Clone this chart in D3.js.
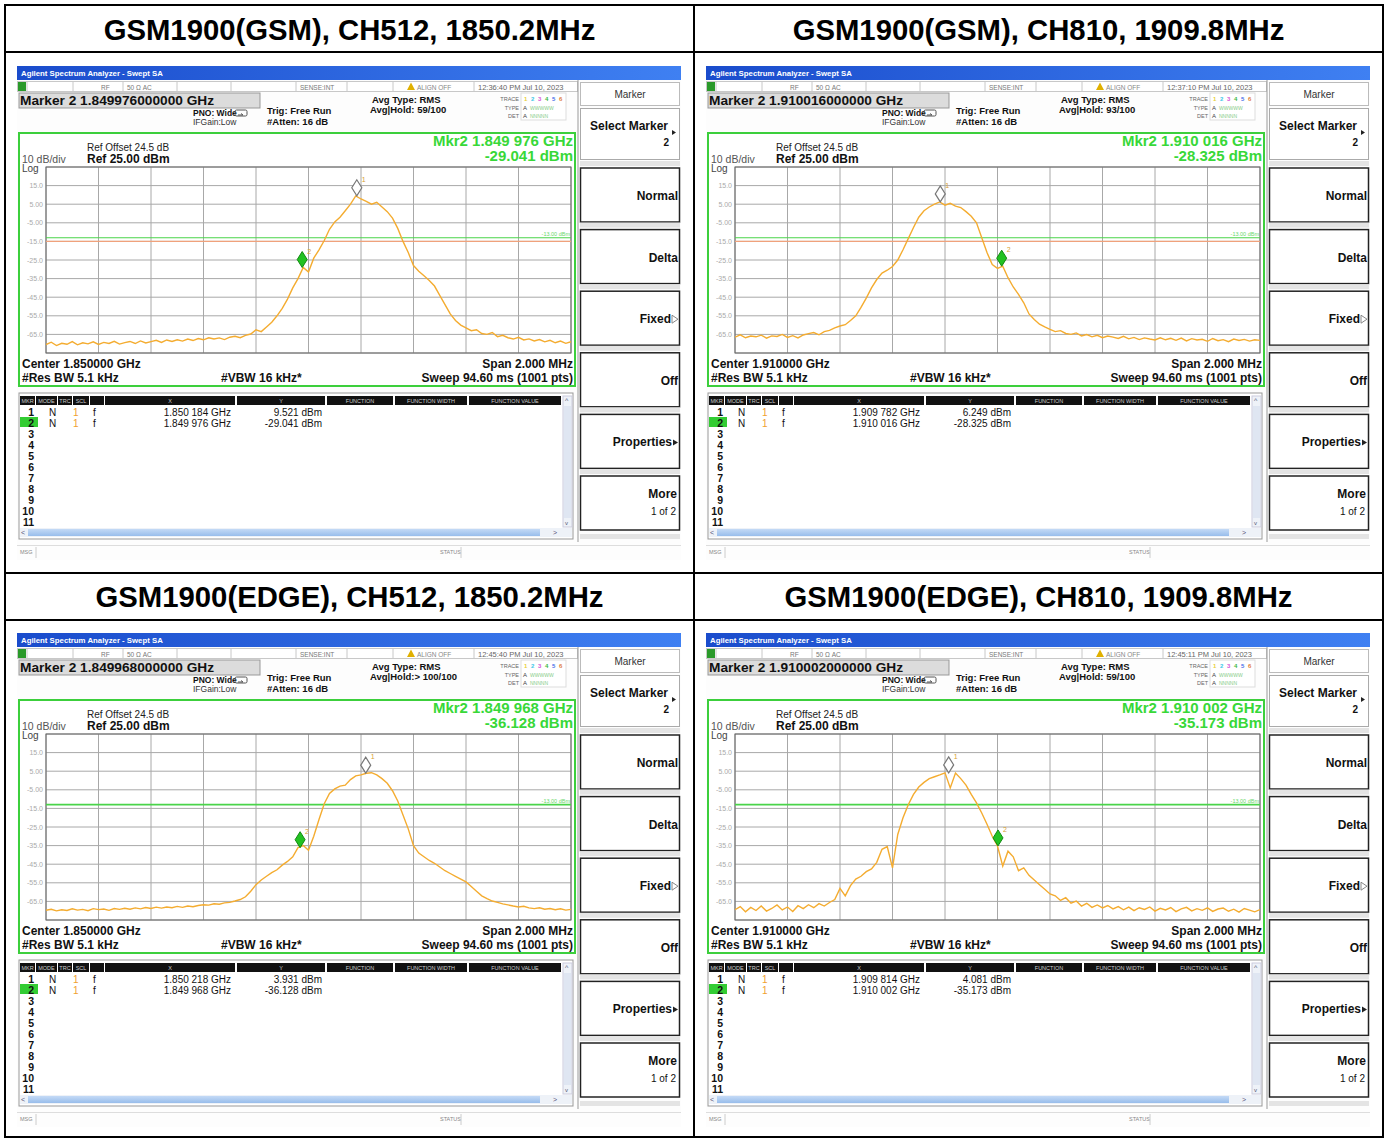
<!DOCTYPE html>
<html>
<head>
<meta charset="utf-8">
<script src="https://cdn.jsdelivr.net/npm/d3@7"></script>
<style>
body{ margin:0; background:#fff }
text{ font-family:"Liberation Sans", Arial, sans-serif }
</style>
</head>
<body>
<script>
var width = 1385,
    height = 1138;

// ---- data ----
var titles = ['GSM1900(GSM), CH512, 1850.2MHz', 'GSM1900(GSM), CH810, 1909.8MHz',
              'GSM1900(EDGE), CH512, 1850.2MHz', 'GSM1900(EDGE), CH810, 1909.8MHz'];
var centers = [1850, 1910, 1850, 1910];            // MHz
var spanMHz = 2;
var timestamps = ['12:36:40 PM Jul 10, 2023', '12:37:10 PM Jul 10, 2023',
                  '12:45:40 PM Jul 10, 2023', '12:45:11 PM Jul 10, 2023'];
var avgHold = ['Avg|Hold: 59/100', 'Avg|Hold: 93/100', 'Avg|Hold:> 100/100', 'Avg|Hold: 59/100'];
var mkr1Freq = [1850.184, 1909.782, 1850.218, 1909.814];
var mkr1Level = [9.521, 6.249, 3.931, 4.081];
var mkr2Freq = [1849.976, 1910.016, 1849.968, 1910.002];
var mkr2Level = [-29.041, -28.325, -36.128, -35.173];
var displayLine = -13;
var yTicks = [15, 5, -5, -15, -25, -35, -45, -55, -65];
var yTickLabels = ['15.0', '5.00', '-5.00', '-15.0', '-25.0', '-35.0', '-45.0', '-55.0', '-65.0'];
var softkeys = ['Normal', 'Delta', 'Fixed', 'Off', 'Properties', 'More'];
var tableHeaders = ['MKR', 'MODE', 'TRC', 'SCL', 'X', 'Y', 'FUNCTION', 'FUNCTION WIDTH', 'FUNCTION VALUE'];

// traces, 101 points each, 20 kHz apart from center-1MHz
var trace1 = [-70.5, -69.2, -71.0, -69.8, -70.3, -68.9, -70.6, -69.5, -70.1, -69.0, -70.4, -69.3, -69.9, -68.7, -70.2, -69.4, -68.8, -69.9, -68.5, -69.6, -68.9, -68.2, -69.3, -68.0, -68.8, -67.9, -68.6, -67.5, -68.3, -67.2, -67.9, -66.8, -67.5, -66.9, -67.8, -66.5,
  -66.0, -66.8, -65.5, -64.8, -62.5, -63.5, -61.0, -58.5,
  -55.0, -51.0, -46.0, -40.0, -35.0, -29.0, -31.5,
  -24.0, -19.5, -14.5, -8.5, -4.5, -2.0, 1.5, 5.0, 9.5, 7.8,
  6.5, 5.0, 6.0, 3.5, 1.0, -2.5,
  -8.0, -15.0, -21.0, -28.0, -31.0, -33.5, -36.0, -39.0, -44.0, -49.0, -54.0, -57.5, -60.0, -61.5,
  -63.0, -62.5, -64.5, -65.0, -64.0, -66.2, -65.5, -66.8, -67.5, -66.6, -68.0, -67.4, -68.5, -67.8, -69.0, -68.2, -69.5, -68.6, -69.8, -68.9];
var trace2 = [-66.5, -65.2, -66.8, -65.9, -66.3, -65.4, -67.0, -65.8, -66.1, -65.0, -66.6, -65.7, -66.9, -65.3, -64.6,
  -64.0, -65.2, -63.5, -62.8, -61.5, -60.5, -59.8, -57.5, -55.0, -50.5, -45.5, -40.0, -35.5, -32.0, -30.5, -28.5,
  -25.0, -19.5, -13.5, -7.5, -2.0, 1.5, 3.5, 5.0, 6.2, 4.5, 5.5, 4.0, 3.2, 1.0, -1.5, -5.0, -13.0, -21.0, -27.5, -29.5, -28.3,
  -34.5, -39.5, -43.5, -48.0, -54.0, -57.0, -59.5, -61.0, -62.3,
  -63.5, -63.0, -64.5, -65.0, -64.2, -65.8, -65.1, -66.3, -65.5, -66.8, -65.9, -66.5, -67.2, -66.0, -67.4, -66.6, -67.8, -66.9, -67.5, -68.0,
  -66.8, -67.9, -67.1, -68.2, -67.0, -68.5, -67.3, -68.0, -67.6, -68.7, -67.2, -68.4, -67.8, -68.9, -67.5, -68.3, -67.7, -68.6, -67.9, -68.2];
var trace3 = [-69.8, -69.2, -70.1, -69.5, -69.9, -69.0, -69.7, -69.3, -70.0, -68.9, -69.4, -69.1, -69.8, -68.8, -69.3, -68.7, -69.2, -68.5, -69.0, -68.3, -68.8, -68.1, -68.6, -68.0, -68.4, -67.7, -68.2, -67.5, -67.9, -67.2,
  -66.8, -67.0, -66.3, -66.5, -65.8, -65.5, -64.8, -64.0, -62.5, -59.5, -56.0, -53.5, -51.5, -49.5, -48.0, -45.5, -43.5, -41.0, -36.1, -35.0, -37.5,
  -30.0, -21.0, -12.5, -7.0, -4.5, -3.0, -2.5, 0.5, 2.5, 3.0, 3.9, 4.2, 3.0, 1.0, -1.5, -5.5, -11.0, -18.5, -26.0, -35.0,
  -39.0, -41.0, -43.0, -44.5, -46.5, -48.5, -50.0, -51.5, -53.0, -54.5, -57.0, -59.5, -62.0, -63.5, -64.8, -65.5, -66.3, -66.9, -67.5, -68.0,
  -67.6, -68.5, -68.9, -68.4, -69.2, -68.8, -69.5, -69.0, -69.7, -69.3];
var trace4 = [-69.5, -67.8, -70.6, -68.2, -69.9, -67.5, -70.2, -68.8, -66.9, -69.6, -68.0, -70.4, -67.3, -68.9, -66.8, -68.4, -66.2, -67.5, -65.6,
  -64.0, -58.0, -62.0, -56.5, -53.0, -51.5, -49.0, -47.5, -44.0, -37.0, -35.5, -47.0, -29.0, -20.0, -13.0, -7.5, -3.5, -1.0, 1.0, 2.0, 3.0, 4.1,
  -4.0, 4.0, 1.0, -2.5, -7.5, -12.0, -17.5, -23.5, -30.0, -35.2,
  -46.0, -38.0, -41.0, -48.5, -47.0, -51.0, -53.5, -56.0, -58.5, -61.0, -62.0, -64.5, -63.0, -66.0, -64.8, -67.5, -66.0, -68.2, -66.9, -68.5,
  -67.2, -69.0, -67.8, -69.5, -68.1, -70.0, -68.4, -69.3, -68.0, -70.2, -68.7, -69.6, -68.3, -70.5, -69.0, -68.2, -70.1, -68.9, -69.8, -68.5,
  -70.4, -69.1, -68.6, -70.3, -69.2, -70.8, -68.8, -69.7, -70.6, -69.4];
var traces = [trace1, trace2, trace3, trace4];

var origins = [[17, 66], [706, 66], [17, 633], [706, 633]];

// ---- page ----
var svg = d3.select('body')
    .append('svg')
        .attr('width', width)
        .attr('height', height)
        .style('display', 'block');

svg.append('rect').attr('width', width).attr('height', height).attr('fill', '#fff');

var defs = svg.append('defs');
var grad = defs.append('linearGradient').attr('id', 'bar');
grad.append('stop').attr('offset', '0').attr('stop-color', '#1a4ccc');
grad.append('stop').attr('offset', '1').attr('stop-color', '#3f80f2');
var sgrad = defs.append('linearGradient').attr('id', 'scroll').attr('x2', 0).attr('y2', 1);
sgrad.append('stop').attr('offset', '0').attr('stop-color', '#c4daf6');
sgrad.append('stop').attr('offset', '1').attr('stop-color', '#98bdeb');
defs.append('clipPath').attr('id', 'gridclip')
    .append('rect').attr('x', 29).attr('y', 101).attr('width', 525).attr('height', 186);

// table grid
var tbl = svg.append('g').attr('stroke', '#000').attr('stroke-width', 2).attr('fill', 'none');
tbl.append('rect').attr('x', 5).attr('y', 5).attr('width', 1378).attr('height', 1132);
[52, 573, 620].forEach(function(yy){
    tbl.append('line').attr('x1', 5).attr('x2', 1383).attr('y1', yy).attr('y2', yy);
});
tbl.append('line').attr('x1', 694).attr('x2', 694).attr('y1', 5).attr('y2', 1137);

svg.selectAll('text.title')
    .data(titles)
    .enter()
    .append('text')
        .attr('class', 'title')
        .attr('x', function(d, i){ return i % 2 ? 1038.5 : 349.5; })
        .attr('y', function(d, i){ return i < 2 ? 40 : 607; })
        .attr('text-anchor', 'middle')
        .attr('font-size', 29.3)
        .attr('font-weight', 'bold')
        .text(function(d){ return d; });

function label(g, x, y, s, size, opt){
    opt = opt || {};
    return g.append('text')
        .attr('x', x).attr('y', y)
        .attr('font-size', size)
        .attr('font-weight', opt.bold ? 'bold' : 'normal')
        .attr('fill', opt.fill || '#111')
        .attr('text-anchor', opt.anchor || 'start')
        .text(s);
}

function spaced(f){   // 1849.976 -> "1.849 976"
    var s = (f / 1000).toFixed(6);
    return s.slice(0, 5) + ' ' + s.slice(5);
}

function drawPanel(k){
    var g = svg.append('g').attr('transform', 'translate(' + origins[k][0] + ',' + origins[k][1] + ')');
    var x = d3.scaleLinear().domain([centers[k] - spanMHz / 2, centers[k] + spanMHz / 2]).range([29, 554]);
    var y = d3.scaleLinear().domain([-75, 25]).range([287, 101]);
    var edge = k >= 2;

    g.append('rect').attr('width', 664).attr('height', 494).attr('fill', '#fdfdfd');

    // title bar
    g.append('rect').attr('width', 664).attr('height', 14).attr('fill', 'url(#bar)');
    label(g, 4, 10, 'Agilent Spectrum Analyzer - Swept SA', 7.8, {bold: true, fill: '#fff'});

    // status row
    g.append('rect').attr('x', 0.5).attr('y', 15.5).attr('width', 560).attr('height', 10)
        .attr('fill', '#fff').attr('stroke', '#c8c8c8');
    [10, 56, 106, 160, 214, 279, 330, 376, 457].forEach(function(sx){
        g.append('line').attr('x1', sx).attr('x2', sx).attr('y1', 16).attr('y2', 25).attr('stroke', '#c8c8c8');
    });
    g.append('rect').attr('x', 1).attr('y', 16).attr('width', 8).attr('height', 9).attr('fill', '#2a9a2a');
    label(g, 84, 23.5, 'RF', 6.5, {fill: '#777'});
    label(g, 110, 23.5, '50 \u03a9   AC', 6.5, {fill: '#777'});
    label(g, 283, 23.5, 'SENSE:INT', 6.5, {fill: '#777'});
    g.append('path').attr('d', 'M390,24 L394,16.5 L398,24 Z').attr('fill', '#e0b000');
    label(g, 400, 23.5, 'ALIGN OFF', 6.5, {fill: '#888'});
    label(g, 461, 23.5, timestamps[k], 7.5, {fill: '#666'});

    // marker header line
    g.append('rect').attr('x', 2).attr('y', 27).attr('width', 241).attr('height', 15)
        .attr('fill', '#dcdcdc').attr('stroke', '#999');
    label(g, 3, 39, 'Marker 2 ' + (mkr2Freq[k] / 1000).toFixed(12) + ' GHz', 13.7, {bold: true});
    label(g, 176, 50, 'PNO: Wide', 8.5, {bold: true});
    label(g, 176, 59, 'IFGain:Low', 8.5, {fill: '#333'});
    g.append('rect').attr('x', 218).attr('y', 44).attr('width', 12).attr('height', 6)
        .attr('fill', 'none').attr('stroke', '#555').attr('rx', 1.5);
    g.append('path').attr('d', 'M221,49 L226,49 L224,47.5').attr('fill', 'none').attr('stroke', '#555');
    label(g, 250, 48, 'Trig: Free Run', 9.5, {bold: true});
    label(g, 250, 59, '#Atten: 16 dB', 9.5, {bold: true});
    label(g, 355, 37, 'Avg Type: RMS', 9.5, {bold: true});
    label(g, 353, 47, avgHold[k], 9.5, {bold: true});

    // trace legend
    g.append('rect').attr('x', 504).attr('y', 27).attr('width', 45).attr('height', 27)
        .attr('fill', '#fff').attr('stroke', '#ddd');
    label(g, 502, 35, 'TRACE', 5.5, {fill: '#666', anchor: 'end'});
    label(g, 502, 44, 'TYPE', 5.5, {fill: '#666', anchor: 'end'});
    label(g, 502, 52, 'DET', 5.5, {fill: '#666', anchor: 'end'});
    var tc = ['#e8d040', '#40c8e8', '#d858d8', '#40b840', '#4870e8', '#e08040'];
    tc.forEach(function(c, j){
        label(g, 507 + j * 7, 35, String(j + 1), 6, {bold: true, fill: c});
    });
    label(g, 506, 44, 'A', 6, {fill: '#444'});
    label(g, 513, 44, 'WWWWW', 5, {fill: '#8c8'});
    label(g, 506, 52, 'A', 6, {fill: '#444'});
    label(g, 513, 52, 'NNNNN', 5, {fill: '#8c8'});

    // graph frame
    g.append('rect').attr('x', 2).attr('y', 67).attr('width', 556).attr('height', 253)
        .attr('fill', '#fff').attr('stroke', '#3ccf3c').attr('stroke-width', 2);
    label(g, 70, 85, 'Ref Offset 24.5 dB', 10, {fill: '#222'});
    label(g, 5, 97, '10 dB/div', 10.5, {fill: '#555'});
    label(g, 70, 97, 'Ref 25.00 dBm', 12, {bold: true});
    label(g, 5, 106, 'Log', 10, {fill: '#444'});
    label(g, 556, 80, 'Mkr2 ' + spaced(mkr2Freq[k]) + ' GHz', 15, {bold: true, fill: '#38d838', anchor: 'end'});
    label(g, 556, 95, mkr2Level[k].toFixed(3) + ' dBm', 15, {bold: true, fill: '#38d838', anchor: 'end'});

    // grid
    var grid = g.append('g');
    var xt = d3.range(11).map(function(j){ return centers[k] - 1 + j * 0.2; });
    grid.selectAll('line.v').data(xt).enter().append('line')
        .attr('x1', function(d){ return x(d); }).attr('x2', function(d){ return x(d); })
        .attr('y1', 101).attr('y2', 287)
        .attr('stroke', '#a8a8a8');
    grid.selectAll('line.h').data(d3.range(25, -76, -10)).enter().append('line')
        .attr('x1', 29).attr('x2', 554)
        .attr('y1', function(d){ return y(d); }).attr('y2', function(d){ return y(d); })
        .attr('stroke', '#a8a8a8');
    grid.append('rect').attr('x', 29).attr('y', 101).attr('width', 525).attr('height', 186)
        .attr('fill', 'none').attr('stroke', '#666');
    g.selectAll('text.yt').data(yTicks).enter().append('text')
        .attr('class', 'yt')
        .attr('x', 26).attr('y', function(d){ return y(d) + 2.5; })
        .attr('text-anchor', 'end').attr('font-size', 7).attr('fill', '#aaa')
        .text(function(d, i){ return yTickLabels[i]; });

    // limit / display lines
    if (!edge) {
        g.append('line').attr('x1', 29).attr('x2', 554).attr('y1', y(-15)).attr('y2', y(-15))
            .attr('stroke', '#f0a27c').attr('stroke-width', 1.2);
    }
    g.append('line').attr('x1', 29).attr('x2', 554).attr('y1', y(displayLine)).attr('y2', y(displayLine))
        .attr('stroke', '#4ad44a').attr('stroke-width', edge ? 1.8 : 1.1);
    label(g, 553, y(displayLine) - 2, '-13.00 dBm', 5.5, {fill: '#6ad86a', anchor: 'end'});

    // trace
    var line = d3.line()
        .x(function(d, i){ return x(centers[k] - 1 + i * 0.02); })
        .y(function(d){ return y(d); });
    g.append('path')
        .datum(traces[k])
        .attr('clip-path', 'url(#gridclip)')
        .attr('d', line)
        .attr('fill', 'none')
        .attr('stroke', '#f4ac30')
        .attr('stroke-width', 1.4);

    // markers
    var dia = 'M0,0 L-5,-8 L0,-16 L5,-8 Z';
    var m1x = x(mkr1Freq[k]), m1y = y(mkr1Level[k]);
    g.append('path').attr('d', dia).attr('transform', 'translate(' + m1x + ',' + m1y + ')')
        .attr('fill', '#fff').attr('stroke', '#777').attr('stroke-width', 1.2);
    label(g, m1x + 5, m1y - 14, '1', 7, {fill: '#d8a030'});
    var m2x = x(mkr2Freq[k]), m2y = y(mkr2Level[k]);
    g.append('path').attr('d', dia).attr('transform', 'translate(' + m2x + ',' + m2y + ')')
        .attr('fill', '#22c222').attr('stroke', '#128a12').attr('stroke-width', 1);
    label(g, m2x + 5, m2y - 14, '2', 7, {fill: '#d8a030'});

    // bottom annotations
    label(g, 5, 302, 'Center ' + (centers[k] / 1000).toFixed(6) + ' GHz', 12, {bold: true});
    label(g, 556, 302, 'Span 2.000 MHz', 12, {bold: true, anchor: 'end'});
    label(g, 5, 316, '#Res BW 5.1 kHz', 12, {bold: true});
    label(g, 204, 316, '#VBW 16 kHz*', 12, {bold: true});
    label(g, 556, 316, 'Sweep  94.60 ms (1001 pts)', 12, {bold: true, anchor: 'end'});

    // marker table
    g.append('rect').attr('x', 2).attr('y', 327).attr('width', 554).attr('height', 146)
        .attr('fill', '#fff').attr('stroke', '#999');
    var cols = [[3, 18], [19, 40], [41, 55], [56, 72], [88, 218], [220, 308], [310, 376], [378, 450], [452, 544]];
    cols.forEach(function(c, j){
        g.append('rect').attr('x', c[0]).attr('y', 330).attr('width', c[1] - c[0]).attr('height', 9).attr('fill', '#111');
        label(g, (c[0] + c[1]) / 2, 337, tableHeaders[j], 5.5, {fill: '#ccc', anchor: 'middle'});
    });
    g.append('rect').attr('x', 73).attr('y', 330).attr('width', 14).attr('height', 9).attr('fill', '#111');
    g.append('rect').attr('x', 3).attr('y', 351).attr('width', 18).attr('height', 10).attr('fill', '#33cc33');
    d3.range(1, 12).forEach(function(r){
        label(g, 17, 349.5 + (r - 1) * 11, String(r), 10.5, {bold: true, anchor: 'end'});
    });
    var rows = [[mkr1Freq[k], mkr1Level[k]], [mkr2Freq[k], mkr2Level[k]]];
    rows.forEach(function(r, j){
        var yy = 349.5 + j * 11;
        label(g, 32, yy, 'N', 10);
        label(g, 56, yy, '1', 10, {fill: '#f0a030'});
        label(g, 76, yy, 'f', 10);
        label(g, 214, yy, spaced(r[0]) + ' GHz', 10, {anchor: 'end'});
        label(g, 305, yy, r[1].toFixed(3) + ' dBm', 10, {anchor: 'end'});
    });
    // scrollbars
    g.append('rect').attr('x', 546).attr('y', 330).attr('width', 9).attr('height', 131).attr('fill', '#eef2f8').attr('stroke', '#ccd');
    g.append('rect').attr('x', 547).attr('y', 340).attr('width', 7).attr('height', 112).attr('fill', '#dfe6f2');
    g.append('rect').attr('x', 3).attr('y', 462).attr('width', 552).attr('height', 9).attr('fill', '#eef2f8');
    g.append('rect').attr('x', 11).attr('y', 463).attr('width', 512).attr('height', 7).attr('fill', 'url(#scroll)');
    label(g, 4, 469, '<', 7, {fill: '#557'});
    label(g, 536, 469, '>', 7, {fill: '#557'});
    label(g, 548, 337, '^', 7, {fill: '#557'});
    label(g, 548, 459, 'v', 6, {fill: '#557'});

    // message bar
    g.append('line').attr('x1', 0).attr('x2', 664).attr('y1', 479.5).attr('y2', 479.5).attr('stroke', '#ddd');
    label(g, 3, 488, 'MSG', 5.5, {fill: '#888'});
    g.append('line').attr('x1', 19).attr('x2', 19).attr('y1', 481).attr('y2', 492).attr('stroke', '#ccc');
    label(g, 423, 488, 'STATUS', 5.5, {fill: '#888'});
    g.append('line').attr('x1', 444).attr('x2', 444).attr('y1', 481).attr('y2', 492).attr('stroke', '#ccc');

    // softkeys
    g.append('line').attr('x1', 561).attr('x2', 561).attr('y1', 14).attr('y2', 476).attr('stroke', '#999');
    g.append('rect').attr('x', 563.5).attr('y', 16.5).attr('width', 99).attr('height', 23)
        .attr('fill', '#fff').attr('stroke', '#bbb');
    label(g, 613, 32, 'Marker', 10, {fill: '#333', anchor: 'middle'});
    g.append('rect').attr('x', 563.5).attr('y', 42.5).attr('width', 99).attr('height', 51)
        .attr('fill', '#fff').attr('stroke', '#aaa');
    label(g, 651, 64, 'Select Marker', 12, {bold: true, anchor: 'end'});
    g.append('path').attr('d', 'M655,64 L659,66.5 L655,69 Z').attr('fill', '#222');
    label(g, 652, 80, '2', 10, {bold: true, anchor: 'end'});
    softkeys.forEach(function(s, j){
        var top = 102 + j * 61.6;
        g.append('rect').attr('x', 563).attr('y', top - 7).attr('width', 100).attr('height', 5).attr('fill', '#e4e4e4');
        g.append('rect').attr('x', 563.5).attr('y', top).attr('width', 99).attr('height', 54)
            .attr('fill', '#fff').attr('stroke', '#222').attr('stroke-width', 1.5);
        if (s == 'More') {
            label(g, 660, top + 22, 'More', 12, {bold: true, anchor: 'end'});
            label(g, 659, top + 39, '1 of 2', 10, {anchor: 'end'});
        } else if (s == 'Fixed') {
            label(g, 654, top + 32, s, 12, {bold: true, anchor: 'end'});
            g.append('path').attr('d', 'M655,' + (top + 24) + ' L661,' + (top + 28) + ' L655,' + (top + 32) + ' Z')
                .attr('fill', 'none').attr('stroke', '#888');
        } else if (s == 'Properties') {
            label(g, 655, top + 32, s, 12, {bold: true, anchor: 'end'});
            g.append('path').attr('d', 'M656,' + (top + 25) + ' L661,' + (top + 28) + ' L656,' + (top + 31) + ' Z').attr('fill', '#222');
        } else {
            label(g, 661, top + 32, s, 12, {bold: true, anchor: 'end'});
        }
    });
    g.append('rect').attr('x', 563).attr('y', 468).attr('width', 100).attr('height', 5).attr('fill', '#e4e4e4');
}

for (var k = 0; k < 4; k++) drawPanel(k);
</script>
</body>
</html>
